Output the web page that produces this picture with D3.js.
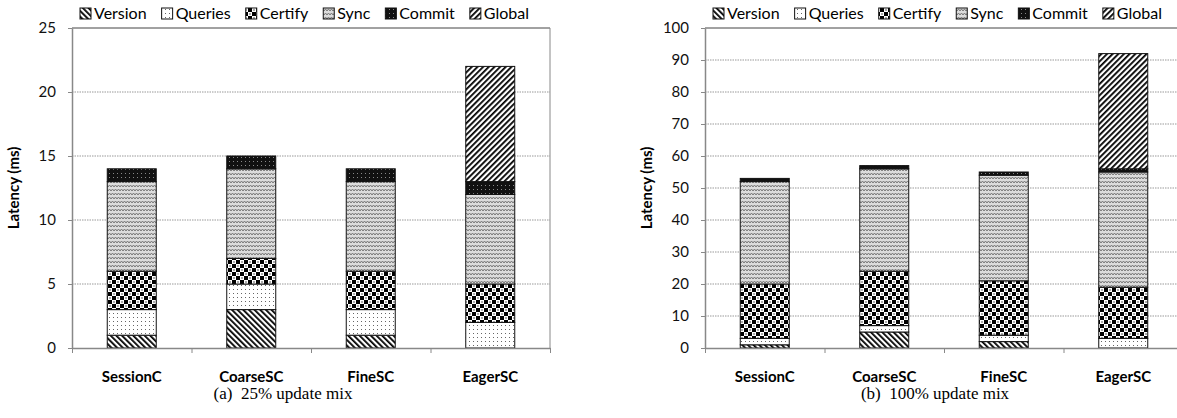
<!DOCTYPE html>
<html>
<head>
<meta charset="utf-8">
<script src="https://cdn.jsdelivr.net/npm/d3@7"></script>
<style>
  body { margin: 0; background: #fff; }
  .axis path, .axis line { stroke: #888; }
  .axis text { font-family: Lato, sans-serif; font-size: 15px; fill: #111; }
</style>
</head>
<body>
<div id="vis"></div>
<script>
const categories = ["SessionC", "CoarseSC", "FineSC", "EagerSC"];
const components = ["Version", "Queries", "Certify", "Sync", "Commit", "Global"];

// (a) 25% update mix
const version25 = [1, 3, 1, 0];
const queries25 = [2, 2, 2, 2];
const certify25 = [3, 2, 3, 3];
const sync25 = [7, 7, 7, 7];
const commit25 = [1, 1, 1, 1];
const global25 = [0, 0, 0, 9];
const yTicks25 = [0, 5, 10, 15, 20, 25];

// (b) 100% update mix
const version100 = [1, 5, 2, 0];
const queries100 = [2, 2, 2, 3];
const certify100 = [17, 17, 17, 16];
const sync100 = [32, 32, 33, 36];
const commit100 = [1, 1, 1, 1];
const global100 = [0, 0, 0, 36];
const yTicks100 = [0, 10, 20, 30, 40, 50, 60, 70, 80, 90, 100];

const width = 1177;
const height = 418;

const svg = d3.select("#vis").append("svg")
    .attr("width", width)
    .attr("height", height);

const defs = svg.append("defs");

function stripes(id, angle) {
    const p = defs.append("pattern")
        .attr("id", id)
        .attr("patternUnits", "userSpaceOnUse")
        .attr("width", 4).attr("height", 4)
        .attr("patternTransform", `rotate(${angle})`);
    p.append("rect").attr("width", 4).attr("height", 4).attr("fill", "#fff");
    p.append("rect").attr("width", 1.8).attr("height", 4).attr("fill", "#000");
}
stripes("pat-Version", -45);
stripes("pat-Global", 45);

// Queries: sparse dots
let p = defs.append("pattern").attr("id", "pat-Queries")
    .attr("patternUnits", "userSpaceOnUse").attr("width", 4).attr("height", 4);
p.append("rect").attr("width", 4).attr("height", 4).attr("fill", "#fff");
p.append("rect").attr("x", 1).attr("y", 1).attr("width", 1).attr("height", 1).attr("fill", "#666");

// Certify: checkerboard
p = defs.append("pattern").attr("id", "pat-Certify")
    .attr("patternUnits", "userSpaceOnUse").attr("width", 8).attr("height", 8);
p.append("rect").attr("width", 8).attr("height", 8).attr("fill", "#fff");
p.append("rect").attr("width", 4).attr("height", 4).attr("fill", "#000");
p.append("rect").attr("x", 4).attr("y", 4).attr("width", 4).attr("height", 4).attr("fill", "#000");
p.append("rect").attr("x", 5).attr("y", 1).attr("width", 2).attr("height", 2).attr("fill", "#aaa");
p.append("rect").attr("x", 1).attr("y", 5).attr("width", 2).attr("height", 2).attr("fill", "#aaa");

// Sync: grey zigzag
p = defs.append("pattern").attr("id", "pat-Sync")
    .attr("patternUnits", "userSpaceOnUse").attr("width", 6).attr("height", 4);
p.append("rect").attr("width", 6).attr("height", 4).attr("fill", "#dcdcdc");
p.append("path").attr("d", "M0,3 L1.5,1 L3,3 L4.5,1 L6,3")
    .attr("fill", "none").attr("stroke", "#777").attr("stroke-width", 1);

// Commit: black with grey dots
p = defs.append("pattern").attr("id", "pat-Commit")
    .attr("patternUnits", "userSpaceOnUse").attr("width", 4).attr("height", 4);
p.append("rect").attr("width", 4).attr("height", 4).attr("fill", "#111");
p.append("rect").attr("x", 1).attr("y", 1).attr("width", 1).attr("height", 1).attr("fill", "#888");

function drawPanel(cfg) {
    const g = svg.append("g");
    const y = d3.scaleLinear().domain([0, cfg.ticks[cfg.ticks.length - 1]]).range([348, 28]);
    const x = d3.scaleBand().domain(categories).range([cfg.x0, cfg.x1])
        .paddingInner(0.59).paddingOuter(0.295);
    const xEdge = d3.scaleLinear().domain([0, categories.length]).range([cfg.x0, cfg.x1]);

    // gridlines
    g.selectAll(".grid")
        .data(cfg.ticks.slice(1, -1))
        .join("line")
        .attr("x1", cfg.x0).attr("x2", cfg.x1)
        .attr("y1", d => y(d)).attr("y2", d => y(d))
        .attr("stroke", "#999")
        .attr("stroke-dasharray", "1.5,1");
    const top = cfg.ticks[cfg.ticks.length - 1];
    g.append("line")
        .attr("x1", cfg.x0).attr("x2", cfg.x1)
        .attr("y1", y(top)).attr("y2", y(top))
        .attr("stroke", "#444");
    g.append("line")
        .attr("x1", cfg.x1).attr("x2", cfg.x1)
        .attr("y1", y(top)).attr("y2", y(0))
        .attr("stroke", "#888");

    // bars
    const rows = categories.map((c, i) => {
        const r = { cat: c };
        components.forEach(k => r[k] = cfg.series[k][i]);
        return r;
    });
    const stacked = d3.stack().keys(components)(rows);
    g.selectAll(".layer")
        .data(stacked)
        .join("g")
        .attr("fill", d => `url(#pat-${d.key})`)
        .selectAll("rect")
        .data(d => d.filter(s => s[1] - s[0] > 0))
        .join("rect")
        .attr("x", d => x(d.data.cat))
        .attr("width", x.bandwidth())
        .attr("y", d => y(d[1]))
        .attr("height", d => y(d[0]) - y(d[1]))
        .attr("stroke", "#111")
        .attr("stroke-width", 1);

    // axes
    g.append("g")
        .attr("class", "axis")
        .attr("transform", `translate(${cfg.x0},0)`)
        .call(d3.axisLeft(y).tickValues(cfg.ticks).tickSize(4).tickPadding(12).tickSizeOuter(0))
        .select(".domain").attr("stroke-width", 1.5);
    g.append("g")
        .attr("class", "axis")
        .attr("transform", `translate(0,${y(0)})`)
        .call(d3.axisBottom(xEdge).tickValues(d3.range(categories.length + 1)).tickSize(5).tickSizeOuter(0).tickFormat(""))
        .select(".domain").attr("stroke-width", 1.5);

    // category labels
    g.selectAll(".cat")
        .data(categories)
        .join("text")
        .attr("x", d => x(d) + x.bandwidth() / 2)
        .attr("y", 382)
        .attr("text-anchor", "middle")
        .attr("font-family", "Lato, sans-serif")
        .attr("font-weight", "bold")
        .attr("font-size", "15px")
        .text(d => d);

    // y title
    g.append("text")
        .attr("transform", `translate(${cfg.x0 - 53},${y(top / 2)}) rotate(-90)`)
        .attr("text-anchor", "middle")
        .attr("font-family", "Lato, sans-serif")
        .attr("font-weight", "bold")
        .attr("font-size", "15px")
        .text("Latency (ms)");

    // caption
    g.append("text")
        .attr("x", cfg.captionX)
        .attr("y", 399)
        .attr("text-anchor", "middle")
        .attr("font-family", "'Liberation Serif', serif")
        .attr("font-size", "17px")
        .style("white-space", "pre")
        .text(cfg.caption);

    // legend
    let lx = cfg.legendX;
    components.forEach(k => {
        g.append("rect")
            .attr("x", lx).attr("y", 8)
            .attr("width", 11).attr("height", 11)
            .attr("fill", `url(#pat-${k})`)
            .attr("stroke", "#111");
        const t = g.append("text")
            .attr("x", lx + 14).attr("y", 19)
            .attr("font-family", "Lato, sans-serif")
            .attr("font-size", "16px")
            .text(k);
        lx += 14 + t.node().getComputedTextLength() + 15;
    });
}

drawPanel({
    x0: 72, x1: 550, ticks: yTicks25,
    series: { Version: version25, Queries: queries25, Certify: certify25, Sync: sync25, Commit: commit25, Global: global25 },
    caption: "(a)  25% update mix", captionX: 283, legendX: 80
});
drawPanel({
    x0: 705, x1: 1183, ticks: yTicks100,
    series: { Version: version100, Queries: queries100, Certify: certify100, Sync: sync100, Commit: commit100, Global: global100 },
    caption: "(b)  100% update mix", captionX: 935, legendX: 713
});
</script>
</body>
</html>
